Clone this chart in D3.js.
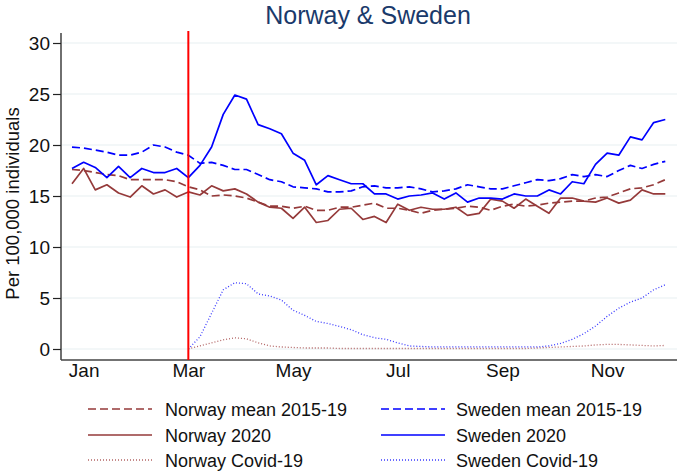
<!DOCTYPE html>
<html>
<head>
<meta charset="utf-8">
<script src="https://cdn.jsdelivr.net/npm/d3@7"></script>
<style>
  html, body { margin: 0; padding: 0; background: #fff; }
  svg { display: block; font-family: "Liberation Sans", Arial, sans-serif; }
</style>
</head>
<body>
<svg id="chart" width="680" height="473"></svg>
<script>
// ---- data (weekly, week 1..52 of 2020) ----
const weeks = d3.range(1, 53);
const monthTicks = [2, 11, 20, 29, 38, 47];
const monthLabels = ["Jan", "Mar", "May", "Jul", "Sep", "Nov"];
const yTicks = [0, 5, 10, 15, 20, 25, 30];
const lockdownWeek = 11;

const norwayMean = [17.6,17.5,17.3,17.1,17.0,16.6,16.6,16.6,16.6,16.4,15.9,15.6,15.0,15.1,15.0,14.8,14.4,14.0,
  14.0,13.8,14.0,13.6,13.6,13.9,13.9,14.1,14.3,13.8,13.8,13.6,13.3,13.6,13.7,13.8,14.0,13.9,
  13.6,14.0,14.2,14.0,14.1,14.3,14.4,14.5,14.5,14.8,14.9,15.3,15.7,15.8,16.1,16.6];
const norway2020 = [16.2,17.7,15.6,16.1,15.3,14.9,16.0,15.2,15.6,14.9,15.4,15.1,16.0,15.5,15.7,15.2,14.4,13.9,
  13.8,12.8,13.9,12.4,12.6,13.7,13.8,12.7,13.0,12.4,14.2,13.6,13.9,13.7,13.7,13.9,13.1,13.3,
  14.7,14.5,13.8,14.7,14.0,13.3,14.8,14.8,14.5,14.4,14.8,14.3,14.6,15.6,15.2,15.2];
const norwayCovid = [null,null,null,null,null,null,null,null,null,null,0.0,0.3,0.6,0.9,1.1,1.0,0.6,0.3,
  0.2,0.15,0.1,0.1,0.1,0.05,0.05,0.05,0.05,0.05,0.05,0.05,0.05,0.05,0.05,0.05,0.05,0.05,
  0.05,0.05,0.05,0.05,0.1,0.15,0.2,0.25,0.3,0.4,0.45,0.45,0.4,0.35,0.3,0.35];
const swedenMean = [19.8,19.7,19.5,19.3,19.0,19.0,19.3,20.0,19.8,19.3,19.0,18.2,18.3,18.0,17.6,17.6,17.1,16.6,
  16.4,15.9,15.8,15.7,15.4,15.4,15.5,15.9,16.0,15.8,15.8,15.9,15.7,15.4,15.5,15.7,16.1,15.9,
  15.7,15.7,16.0,16.3,16.6,16.5,16.7,17.1,16.9,17.1,16.9,17.5,18.0,17.7,18.1,18.4];
const sweden2020 = [17.7,18.3,17.8,16.8,17.9,16.8,17.7,17.3,17.3,17.7,16.8,18.0,19.8,23.0,24.9,24.5,22.0,21.6,
  21.1,19.2,18.5,16.1,17.0,16.6,16.2,16.2,15.2,15.2,14.7,15.0,15.1,15.3,14.7,15.3,14.4,14.8,
  14.8,14.7,15.2,15.0,15.0,15.6,15.2,16.4,16.2,18.1,19.2,19.0,20.8,20.5,22.2,22.5];
const swedenCovid = [null,null,null,null,null,null,null,null,null,null,0.0,1.2,3.5,5.8,6.5,6.4,5.4,5.2,
  4.8,3.8,3.3,2.7,2.5,2.2,1.9,1.4,1.1,0.95,0.6,0.3,0.25,0.2,0.2,0.2,0.2,0.2,
  0.2,0.2,0.2,0.2,0.2,0.3,0.55,0.95,1.5,2.25,3.2,4.0,4.6,5.0,5.8,6.3];

const seriesNames = ["Norway mean 2015-19", "Sweden mean 2015-19", "Norway 2020", "Sweden 2020", "Norway Covid-19", "Sweden Covid-19"];
const seriesValues = [norwayMean, swedenMean, norway2020, sweden2020, norwayCovid, swedenCovid];

// ---- styles ----
const brown = "#953a3a";
const blue = "#0000ff";
const styles = [
  {color: brown, dash: "8,4", width: 1.7},
  {color: blue, dash: "8,4", width: 1.7},
  {color: brown, dash: null, width: 1.7},
  {color: blue, dash: null, width: 1.7},
  {color: "#b26464", dash: "1,2", width: 1.3},
  {color: "#3a3aff", dash: "1,2", width: 1.3}
];

const svg = d3.select("#chart");
const plot = {left: 61, right: 677, top: 30, bottom: 360};
const tickFont = 19;

const x = d3.scaleLinear().domain([1, 52]).range([72, 665.3]);
const y = d3.scaleLinear().domain([0, 30]).range([349, 43]);

// title
svg.append("text").attr("x", 368).attr("y", 24).attr("text-anchor", "middle")
  .attr("font-size", 25).attr("fill", "#1a3a6b").text("Norway & Sweden");

// gridlines
svg.append("g").selectAll("line").data(yTicks).join("line")
  .attr("x1", plot.left + 1).attr("x2", plot.right)
  .attr("y1", d => y(d)).attr("y2", d => y(d))
  .attr("stroke", "#e8f0f2").attr("stroke-width", 1.2);

// y axis
const yAxis = svg.append("g").attr("transform", `translate(${plot.left},0)`)
  .call(d3.axisLeft(y).tickValues(yTicks).tickSize(8).tickPadding(3));
yAxis.select(".domain").attr("d", `M0,${y(30) - 10}V${plot.bottom}`).attr("stroke", "#222").attr("stroke-width", 1.3);
yAxis.selectAll(".tick line").attr("stroke", "#222").attr("stroke-width", 1.2);
yAxis.selectAll(".tick text").attr("font-size", tickFont).attr("fill", "#111").attr("font-family", "Liberation Sans, Arial, sans-serif");

// x axis
const xAxis = svg.append("g").attr("transform", `translate(0,${plot.bottom})`)
  .call(d3.axisBottom(x).tickValues(monthTicks).tickFormat((d, i) => monthLabels[i]).tickSize(0).tickPadding(3));
xAxis.select(".domain").attr("d", `M${plot.left},0H${plot.right}`).attr("stroke", "#444").attr("stroke-width", 1.3);
xAxis.selectAll(".tick text").attr("font-size", tickFont).attr("fill", "#111").attr("font-family", "Liberation Sans, Arial, sans-serif");

// y label
svg.append("text").attr("transform", `translate(19,${(y(30) + plot.bottom) / 2 + 2}) rotate(-90)`)
  .attr("text-anchor", "middle").attr("font-size", 18.5).attr("fill", "#111")
  .text("Per 100,000 individuals");

// lines
const line = d3.line().defined(d => d[1] != null).x(d => x(d[0])).y(d => y(d[1]));
const drawOrder = [4, 5, 0, 2, 1, 3];
drawOrder.forEach(i => {
  svg.append("path")
    .datum(weeks.map((w, j) => [w, seriesValues[i][j]]))
    .attr("d", line).attr("fill", "none")
    .attr("stroke", styles[i].color).attr("stroke-width", styles[i].width)
    .attr("stroke-dasharray", styles[i].dash).attr("stroke-linejoin", "round");
});

// lockdown line
svg.append("line").attr("x1", x(lockdownWeek)).attr("x2", x(lockdownWeek))
  .attr("y1", y(30) - 12).attr("y2", plot.bottom)
  .attr("stroke", "#ff0000").attr("stroke-width", 2);

// legend
const legendRows = [409, 435, 460];
const legendCols = [{x1: 88, x2: 152, tx: 165}, {x1: 381, x2: 445, tx: 456}];
seriesNames.forEach((name, i) => {
  const col = legendCols[i % 2], row = legendRows[Math.floor(i / 2)];
  svg.append("line").attr("x1", col.x1).attr("x2", col.x2).attr("y1", row).attr("y2", row)
    .attr("stroke", styles[i].color).attr("stroke-width", styles[i].width)
    .attr("stroke-dasharray", styles[i].dash);
  svg.append("text").attr("x", col.tx).attr("y", row + 6.5).attr("font-size", 18)
    .attr("fill", "#111").text(name);
});
</script>
</body>
</html>
